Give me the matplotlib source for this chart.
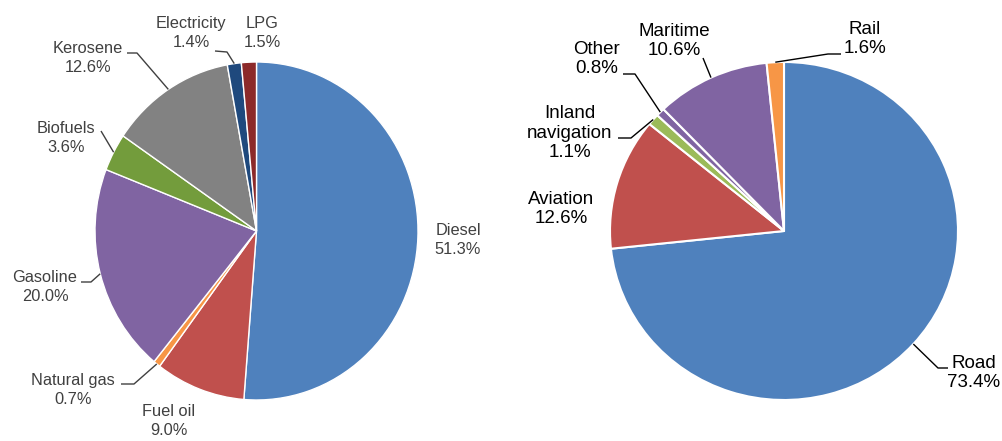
"""Two pie charts: transport energy by fuel and by mode."""
import numpy as np
import matplotlib
matplotlib.use("Agg")
from matplotlib import pyplot as plt

plt.rcParams["font.family"] = ["Liberation Sans", "DejaVu Sans"]

W, H = 1002, 441

# data
fuel_labels = ["Diesel", "Fuel oil", "Natural gas", "Gasoline", "Biofuels",
               "Kerosene", "Electricity", "LPG"]
fuel_shares = [51.3, 9.0, 0.7, 20.0, 3.6, 12.6, 1.4, 1.5]
fuel_colors = ["#4f81bd", "#c0504d", "#f79646", "#8064a2", "#739c3c",
               "#828282", "#1f497d", "#8c2a2a"]

mode_labels = ["Road", "Aviation", "Inland\nnavigation", "Other", "Maritime", "Rail"]
mode_shares = [73.4, 12.6, 1.1, 0.8, 10.6, 1.6]
mode_colors = ["#4f81bd", "#c0504d", "#9bbb59", "#8064a2", "#8064a2", "#f79646"]

# layout (pixels): ellipse centre/radii, then per label text centre and leader start/elbow
left_geom = (256.5, 231, 161.5, 169)
right_geom = (784, 231, 174, 169)

left_layout = [
    ((458, 240), None),
    ((169, 421), None),
    ((73, 390), ((121, 384), (134, 384))),
    ((45, 287), ((81, 282), (91, 282))),
    ((66, 138), ((101, 131), (101, 131))),
    ((88, 58), ((127, 53), (137, 53))),
    ((191, 33), ((215, 51), (227, 52))),
    ((262, 33), None),
]
right_layout = [
    ((974, 373), ((948, 368), (938, 368))),
    ((561, 209), None),
    ((570, 133), ((618, 138), (631, 138))),
    ((597, 59), ((623, 74), (635, 74))),
    ((674, 41), ((703, 58), (703, 58))),
    ((865, 39), ((841, 54), (828, 54))),
]


def draw_pie(fig, geom, labels, shares, colors, layout, text_color, fontsize,
             spacing, edge_lw):
    cx, cy, rx, ry = geom
    ax = fig.add_axes([(cx - rx) / W, (H - (cy + ry)) / H, 2 * rx / W, 2 * ry / H])
    wedges, _ = ax.pie(shares, colors=colors, startangle=90, counterclock=False,
                       wedgeprops=dict(edgecolor="white", linewidth=edge_lw))
    ax.set_aspect("auto")
    ax.set_xlim(-1, 1)
    ax.set_ylim(-1, 1)
    ax.axis("off")

    def to_data(p):
        return (p[0] - cx) / rx, (cy - p[1]) / ry

    for w, lab, share, (tpos, leader) in zip(wedges, labels, shares, layout):
        tx, ty = to_data(tpos)
        ax.text(tx, ty, f"{lab}\n{share:.1f}%", ha="center", va="center",
                fontsize=fontsize, color=text_color, linespacing=spacing,
                clip_on=False)
        if leader is not None:
            mid = np.deg2rad((w.theta1 + w.theta2) / 2)
            arc = (np.cos(mid), np.sin(mid))
            s, e = to_data(leader[0]), to_data(leader[1])
            ax.plot([s[0], e[0], arc[0]], [s[1], e[1], arc[1]], color=text_color,
                    lw=1, clip_on=False, solid_capstyle="butt")
    return ax


fig = plt.figure(figsize=(W / 100, H / 100), dpi=100)
draw_pie(fig, left_geom, fuel_labels, fuel_shares, fuel_colors, left_layout,
         "#404040", 11.8, 1.35, 1.0)
draw_pie(fig, right_geom, mode_labels, mode_shares, mode_colors, right_layout,
         "#000000", 13.5, 1.22, 1.5)

fig.savefig("out.png", dpi=100)
plt.close(fig)
